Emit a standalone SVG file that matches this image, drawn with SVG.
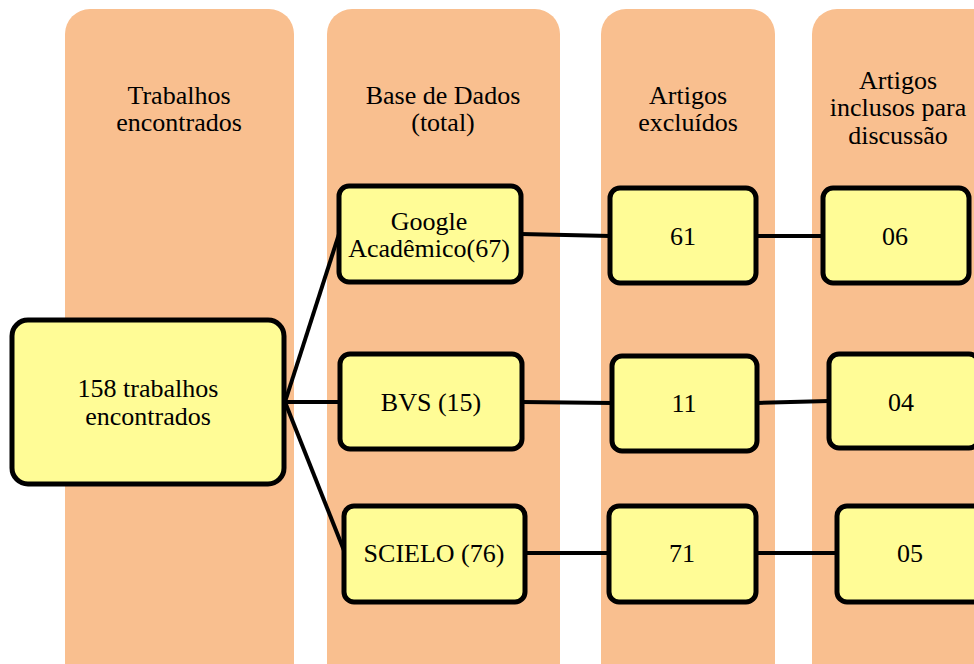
<svg xmlns="http://www.w3.org/2000/svg" width="974" height="664" viewBox="0 0 974 664">
<style>
.col{fill:#F9BF8F}
.node{fill:#FFFC96;stroke:#000;stroke-width:5}
.t{font-family:"Liberation Serif","Times New Roman",serif;font-size:26px;fill:#000;text-anchor:middle}
.edge{stroke:#000;stroke-width:4;fill:none}
</style>
<rect width="974" height="664" fill="#fff"/>
<g id="columns">
<g id="col1"><rect class="col" x="65" y="9" width="229" height="680" rx="25"/>
<text class="t" x="179" y="104">Trabalhos</text><text class="t" x="179" y="131">encontrados</text></g>
<g id="col2"><rect class="col" x="327" y="9" width="233" height="680" rx="25"/>
<text class="t" x="443" y="104">Base de Dados</text><text class="t" x="443" y="131">(total)</text></g>
<g id="col3"><rect class="col" x="601" y="9" width="174" height="680" rx="25"/>
<text class="t" x="688" y="104">Artigos</text><text class="t" x="688" y="131">excluídos</text></g>
<g id="col4"><rect class="col" x="812" y="9" width="200" height="680" rx="25"/>
<text class="t" x="898" y="89">Artigos</text><text class="t" x="898" y="116">inclusos para</text><text class="t" x="898" y="144">discussão</text></g>
</g>
<g id="connectors">
<line class="edge" x1="285" y1="402" x2="339" y2="234"/>
<line class="edge" x1="285" y1="402" x2="340" y2="402"/>
<line class="edge" x1="285" y1="402" x2="345" y2="553"/>
<line class="edge" x1="521" y1="234" x2="610" y2="236"/>
<line class="edge" x1="522" y1="402" x2="612" y2="403"/>
<line class="edge" x1="525" y1="553" x2="609" y2="553"/>
<line class="edge" x1="756" y1="236" x2="823" y2="236"/>
<line class="edge" x1="757" y1="403" x2="829" y2="401"/>
<line class="edge" x1="756" y1="553" x2="837" y2="553"/>
</g>
<g id="n-main"><rect class="node" x="12" y="320" width="272" height="164" rx="16"/>
<text class="t" x="148" y="397">158 trabalhos</text><text class="t" x="148" y="425">encontrados</text></g>
<g id="n-google"><rect class="node" x="339" y="186" width="182" height="96" rx="10"/>
<text class="t" x="429" y="230">Google</text><text class="t" x="429" y="257">Acadêmico(67)</text></g>
<g id="n-bvs"><rect class="node" x="340" y="354" width="182" height="95" rx="10"/>
<text class="t" x="431" y="411">BVS (15)</text></g>
<g id="n-scielo"><rect class="node" x="344" y="506" width="181" height="96" rx="10"/>
<text class="t" x="434" y="562">SCIELO (76)</text></g>
<g id="n-61"><rect class="node" x="610" y="188" width="146" height="95" rx="10"/>
<text class="t" x="683" y="245">61</text></g>
<g id="n-11"><rect class="node" x="612" y="356" width="145" height="95" rx="10"/>
<text class="t" x="684" y="412">11</text></g>
<g id="n-71"><rect class="node" x="609" y="506" width="147" height="96" rx="10"/>
<text class="t" x="682" y="562">71</text></g>
<g id="n-06"><rect class="node" x="823" y="188" width="146" height="95" rx="10"/>
<text class="t" x="895" y="245">06</text></g>
<g id="n-04"><rect class="node" x="829" y="354" width="150" height="94" rx="10"/>
<text class="t" x="901" y="411">04</text></g>
<g id="n-05"><rect class="node" x="837" y="506" width="150" height="96" rx="10"/>
<text class="t" x="910" y="562">05</text></g>
</svg>
